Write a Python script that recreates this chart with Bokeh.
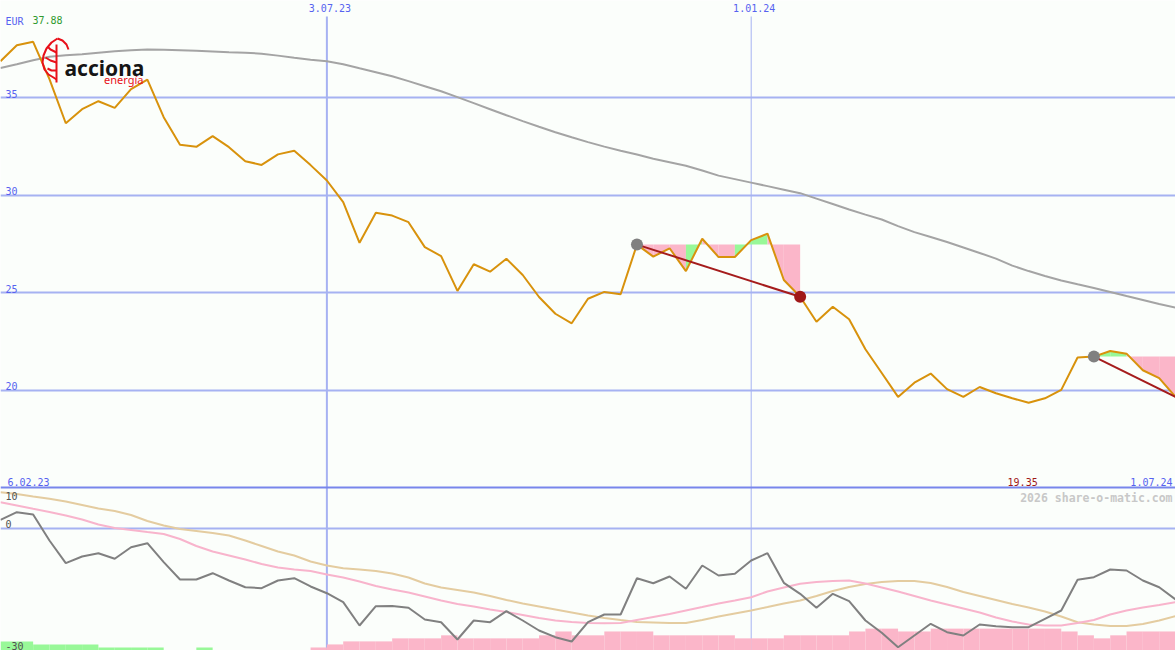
import numpy as np
import pandas as pd
from bokeh.plotting import figure
from bokeh.models import Range1d
from bokeh.core.properties import value
from bokeh.embed import file_html
from bokeh.resources import INLINE

# Weekly closes of Acciona Energía (EUR), Feb 2023 - Jul 2024
weeks = pd.date_range("2023-02-13", periods=73, freq="7D")

price = [36.88, 37.70, 37.88, 35.96, 33.70, 34.42, 34.83, 34.49, 35.45, 35.94,
         34.01, 32.60, 32.49, 33.04, 32.47, 31.75, 31.56, 32.10, 32.29, 31.55,
         30.76, 29.65, 27.56, 29.10, 28.96, 28.62, 27.34, 26.88, 25.09, 26.46,
         26.08, 26.74, 25.91, 24.78, 23.92, 23.43, 24.69, 25.04, 24.92, 27.47,
         26.85, 27.28, 26.11, 27.77, 26.83, 26.83, 27.70, 28.03, 25.65, 24.79,
         23.51, 24.28, 23.64, 22.10, 20.88, 19.65, 20.38, 20.85, 20.05, 19.65,
         20.16, 19.84, 19.58, 19.35, 19.58, 20.01, 21.67, 21.72, 22.01, 21.87,
         21.02, 20.61, 19.65]

# long moving average
ma_long = [36.54, 36.73, 36.93, 37.11, 37.19, 37.24, 37.32, 37.39, 37.45, 37.48,
           37.47, 37.45, 37.42, 37.38, 37.34, 37.32, 37.27, 37.17, 37.06, 36.96,
           36.88, 36.73, 36.52, 36.32, 36.11, 35.86, 35.60, 35.34, 35.04, 34.73,
           34.42, 34.11, 33.81, 33.52, 33.24, 32.98, 32.73, 32.50, 32.29, 32.09,
           31.88, 31.70, 31.52, 31.27, 31.01, 30.83, 30.65, 30.47, 30.29, 30.11,
           29.83, 29.55, 29.27, 29.01, 28.76, 28.42, 28.11, 27.86, 27.60, 27.32,
           27.04, 26.75, 26.39, 26.11, 25.86, 25.63, 25.43, 25.24, 25.04, 24.83,
           24.63, 24.42, 24.23]

# oscillator and its two averages
osc = [2.02, 3.90, 3.33, -3.09, -8.69, -7.04, -6.22, -7.60, -4.74, -3.75,
       -8.44, -12.72, -12.72, -11.16, -12.96, -14.62, -14.86, -12.96, -12.40, -14.44,
       -16.10, -18.32, -24.07, -19.31, -19.26, -19.70, -22.59, -23.26, -27.53, -22.84,
       -23.26, -20.54, -22.84, -25.31, -26.96, -28.02, -23.26, -21.36, -21.36, -12.40,
       -13.63, -11.98, -15.01, -9.26, -11.73, -11.31, -8.02, -6.22, -13.53, -16.25,
       -19.70, -16.25, -18.07, -22.84, -25.88, -29.43, -26.54, -23.65, -25.73, -26.54,
       -23.83, -24.25, -24.49, -24.49, -22.42, -20.37, -12.79, -12.15, -10.25, -10.49,
       -12.96, -14.62, -17.65]

osc_fast = [6.37, 5.56, 4.74, 3.95, 3.09, 2.10, 0.86, 0.00, -0.49, -0.99,
            -1.48, -2.72, -4.44, -5.80, -6.79, -7.78, -8.89, -9.75, -10.25, -10.62,
            -11.48, -12.22, -13.21, -14.32, -15.19, -15.93, -16.91, -17.90, -18.77, -19.38,
            -20.12, -20.74, -21.48, -22.22, -22.84, -23.21, -23.46, -23.51, -23.46, -22.72,
            -21.98, -21.23, -20.37, -19.51, -18.64, -17.90, -17.09, -15.68, -14.69, -13.78,
            -13.33, -13.09, -12.96, -13.70, -14.69, -15.68, -16.79, -17.90, -18.89, -19.88,
            -20.86, -22.10, -23.09, -23.83, -24.07, -24.07, -23.46, -22.72, -21.36, -20.37,
            -19.63, -19.01, -18.32]

osc_slow = [8.84, 8.40, 7.78, 7.21, 6.54, 5.68, 4.81, 4.20, 3.21, 1.73,
            0.62, -0.25, -0.74, -1.23, -1.85, -3.09, -4.44, -5.80, -6.79, -8.27,
            -9.26, -9.93, -10.25, -10.62, -11.23, -12.22, -13.70, -14.69, -15.31, -15.93,
            -16.79, -17.78, -18.64, -19.38, -20.12, -20.86, -21.60, -22.22, -22.72, -23.21,
            -23.33, -23.46, -23.46, -22.72, -21.85, -21.11, -20.37, -19.51, -18.64, -17.90,
            -16.79, -15.56, -14.57, -13.83, -13.33, -13.09, -13.09, -13.58, -14.57, -15.80,
            -16.79, -17.78, -18.77, -19.63, -20.62, -21.85, -23.26, -23.83, -24.20, -24.20,
            -23.70, -22.84, -21.78]

# weekly histogram (one value per week interval; sign picks the colour)
hist = [2.25, 2.25, 1.5, 1.5, 1.5, 1.5, 0.75, 0.75, 0.75, 0.75,
        0, 0, 0.75, 0, 0, 0, 0, 0, 0, -0.75,
        -1.5, -2.25, -2.25, -2.25, -3, -3, -3, -3.75, -3, -3,
        -3, -3, -3, -3.75, -4.7, -3.75, -3.75, -4.7, -4.7, -4.7,
        -3.75, -3.75, -3.75, -3.75, -3.75, -3, -3, -3, -3.75, -3.75,
        -3.75, -3.75, -4.7, -5.4, -5.4, -4.7, -4.7, -5.4, -5.4, -5.4,
        -5.4, -5.4, -5.4, -5.4, -5.4, -4.7, -3.75, -3, -3.75, -4.7,
        -4.7, -4.7]

# trade signals (week indices)
trade_entry = [39, 67]
trade_exit = [49, 72]
trade_closed = [True, False]

price_ticks = [20, 25, 30, 35]
osc_ticks = [10, 0, -30]
date_ticks = ["2023-07-03", "2024-01-01"]
date_tick_labels = ["3.07.23", "1.01.24"]
date_tick_widths = [2, 1]
range_labels = ["6.02.23", "1.07.24"]
currency = "EUR"
watermark = "2026 share-o-matic.com"

# ---- layout --------------------------------------------------------------
W, H = 1175, 650
SPLIT = 487            # pixel row where the price panel ends
PRICE_TOP, PRICE_FLOOR = 40.0, 15.0
OSC_ZERO_PX = 527.5    # pixel row of the oscillator zero line
OSC_TOP = 10.0

BG = "#fbfefb"
GRID = "#a6b2f2"
SEP = "#7886ec"
BLUE = "#5662f0"
MONO = value("DejaVu Sans Mono")

price_per_px = (PRICE_TOP - PRICE_FLOOR) / SPLIT
osc_per_px = OSC_TOP / (OSC_ZERO_PX - SPLIT)
price_range = Range1d(PRICE_FLOOR - (H - SPLIT) * price_per_px, PRICE_TOP)
osc_range = Range1d(-(H - OSC_ZERO_PX) * osc_per_px, OSC_TOP + SPLIT * osc_per_px)

t = weeks.asi8 / 1e6   # epoch milliseconds
x_range = Range1d(t[0], t[-1])
ms_per_px = (t[-1] - t[0]) / W

p = figure(width=W, height=H, x_axis_type="datetime", x_range=x_range,
           y_range=price_range, x_axis_location=None, y_axis_location=None,
           toolbar_location=None, output_backend="svg", min_border=0,
           background_fill_color=BG, border_fill_color=BG, outline_line_color=None)
p.extra_y_ranges = {"osc": osc_range}
for g in p.grid:
    g.visible = False


def px_x(px):
    return t[0] + px * ms_per_px


def px_y(py):
    return PRICE_TOP - py * price_per_px


def label(x, y, text, color, align="left", baseline="bottom", size=10,
          x_off=0, y_off=0, font=MONO, style="normal", rng="default"):
    p.text(x=[x], y=[y], text=[text], text_color=color, text_align=align,
           text_baseline=baseline, text_font=font, text_font_size=f"{size}px",
           text_font_style=style, x_offset=x_off, y_offset=y_off,
           y_range_name=rng)


# ---- grid ----------------------------------------------------------------
p.hspan(y=price_ticks, line_color=GRID, line_width=2)
p.hspan(y=[0], line_color=GRID, line_width=2, y_range_name="osc")
tick_ms = [pd.Timestamp(d).value / 1e6 for d in date_ticks]
p.segment(x0=tick_ms, y0=[px_y(16)] * len(tick_ms), x1=tick_ms,
          y1=[price_range.start] * len(tick_ms), line_color=GRID,
          line_width=date_tick_widths)
p.hspan(y=[PRICE_FLOOR], line_color=SEP, line_width=2)

# ---- oscillator panel ----------------------------------------------------
h = np.array(hist)
nz = h != 0
floor = osc_range.start
p.quad(left=t[:-1][nz], right=t[1:][nz], bottom=floor, top=floor + np.abs(h[nz]),
       fill_color=np.where(h[nz] > 0, "#98f898", "#fbb6c9").tolist(),
       line_color=None, y_range_name="osc")
p.line(t, osc_slow, line_color="#e4cca0", line_width=2, y_range_name="osc")
p.line(t, osc_fast, line_color="#f8b4cc", line_width=2, y_range_name="osc")
p.line(t, osc, line_color="#808080", line_width=2, y_range_name="osc")

# ---- trade fills ---------------------------------------------------------
pr = np.array(price)
xs, ys, cols = [], [], []
for e, x in zip(trade_entry, trade_exit):
    lvl = pr[e]
    for i in range(e, x):
        xs.append([t[i], t[i], t[i + 1], t[i + 1]])
        ys.append([lvl, pr[i], pr[i + 1], lvl])
        cols.append("#98f898" if pr[i + 1] > lvl else "#fbb6c9")
p.patches(xs, ys, fill_color=cols, line_color=None)

# ---- price panel ---------------------------------------------------------
p.line(t, ma_long, line_color="#a4a4a4", line_width=2)
p.line(t, price, line_color="#d8920c", line_width=2)
p.segment(x0=[t[e] for e in trade_entry], y0=[pr[e] for e in trade_entry],
          x1=[t[x] for x in trade_exit], y1=[pr[x] for x in trade_exit],
          line_color="#a51c1c", line_width=2)
p.scatter([t[e] for e in trade_entry], [pr[e] for e in trade_entry],
          size=12, fill_color="#808080", line_color=None)
closed = [x for x, c in zip(trade_exit, trade_closed) if c]
p.scatter([t[x] for x in closed], [pr[x] for x in closed],
          size=12, fill_color="#a01818", line_color=None)

# ---- labels --------------------------------------------------------------
for v in price_ticks:
    label(t[0], v, str(v), BLUE, x_off=5)
for d, s in zip(tick_ms, date_tick_labels):
    label(d, PRICE_TOP, s, BLUE, align="center", baseline="top", x_off=3, y_off=3)
label(t[0], PRICE_TOP, currency, BLUE, baseline="top", x_off=5, y_off=15)
label(t[0], PRICE_TOP, f"{pr.max():.2f}", "#2f9a2f", baseline="top", x_off=32, y_off=15)
label(t[0], PRICE_FLOOR, range_labels[0], BLUE, x_off=7, y_off=-2)
label(t[-1], PRICE_FLOOR, range_labels[1], BLUE, align="right", x_off=-3, y_off=-2)
imin = int(pr.argmin())
label(t[imin], PRICE_FLOOR, f"{pr.min():.2f}", "#a01818", align="center", x_off=-6, y_off=-2)
label(t[-1], osc_ticks[0], watermark, "#c8c8c8", align="right", baseline="top",
      size=11.5, x_off=-3, y_off=3, style="bold", rng="osc")
label(t[0], osc_ticks[0], str(osc_ticks[0]), "#505050", baseline="top",
      x_off=5, y_off=4, rng="osc")
for v in osc_ticks[1:]:
    label(t[0], v, str(v), "#505050", x_off=5, rng="osc")

# ---- logo ----------------------------------------------------------------
strokes = [
    [(57, 38), (51, 42), (46, 48), (43, 55), (42, 62), (44, 69), (48, 74), (53, 77), (56, 79)],
    [(57, 38), (62, 40), (66, 44), (68, 49)],
    [(56, 44), (56, 82)],
    [(56, 52), (50, 49), (47, 46)],
    [(56, 62), (50, 60), (45, 57)],
    [(56, 70), (51, 70), (47, 68)],
]
p.multi_line([[px_x(a) for a, _ in s] for s in strokes],
             [[px_y(b) for _, b in s] for s in strokes],
             line_color="#e8101a", line_width=2)
label(px_x(64), px_y(67), "acciona", "#151515", baseline="alphabetic", size=21,
      font=value("Noto Sans"), style="bold")
label(px_x(143), px_y(79), "energía", "#e8101a", align="right", baseline="alphabetic",
      size=11, font=value("Noto Sans"))

with open("out.html", "w", encoding="utf-8") as f:
    f.write(file_html(p, INLINE))
